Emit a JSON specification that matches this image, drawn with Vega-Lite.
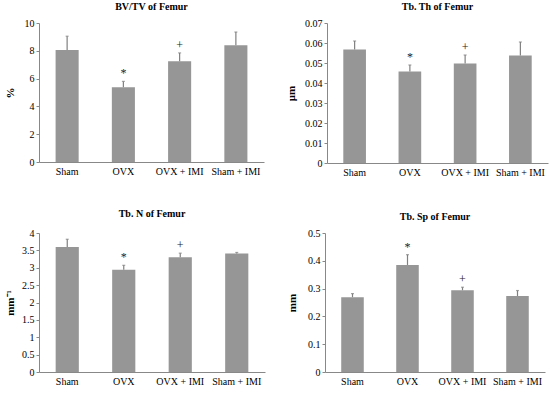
{
  "$schema": "https://vega.github.io/schema/vega-lite/v6.json",
  "padding": {"left": 4, "top": 2, "right": 2, "bottom": 2},
  "background": "white",
  "spacing": 32,
  "datasets": {
    "bvtv": [
      {"group": "Sham", "value": 8.05, "err": 9.05, "sig": ""},
      {"group": "OVX", "value": 5.38, "err": 5.8, "sig": "*"},
      {"group": "OVX + IMI", "value": 7.25, "err": 7.85, "sig": "+"},
      {"group": "Sham + IMI", "value": 8.4, "err": 9.35, "sig": ""}
    ],
    "tbth": [
      {"group": "Sham", "value": 0.0567, "err": 0.061, "sig": ""},
      {"group": "OVX", "value": 0.0457, "err": 0.049, "sig": "*"},
      {"group": "OVX + IMI", "value": 0.0497, "err": 0.054, "sig": "+"},
      {"group": "Sham + IMI", "value": 0.0537, "err": 0.0605, "sig": ""}
    ],
    "tbn": [
      {"group": "Sham", "value": 3.6, "err": 3.82, "sig": ""},
      {"group": "OVX", "value": 2.94, "err": 3.07, "sig": "*"},
      {"group": "OVX + IMI", "value": 3.3, "err": 3.42, "sig": "+"},
      {"group": "Sham + IMI", "value": 3.41, "err": 3.44, "sig": ""}
    ],
    "tbsp": [
      {"group": "Sham", "value": 0.269, "err": 0.282, "sig": ""},
      {"group": "OVX", "value": 0.385, "err": 0.422, "sig": "*"},
      {"group": "OVX + IMI", "value": 0.294, "err": 0.305, "sig": "+"},
      {"group": "Sham + IMI", "value": 0.273, "err": 0.293, "sig": ""}
    ]
  },
  "config": {
    "view": {"stroke": null},
    "font": "Liberation Serif",
    "concat": {"spacing": 21},
    "title": {"font": "Liberation Serif", "fontSize": 10, "fontWeight": "bold", "color": "#000", "anchor": "middle", "offset": 6},
    "axis": {
      "labelFont": "Liberation Serif", "labelFontSize": 10, "labelColor": "#000",
      "titleFont": "Liberation Serif", "titleFontSize": 11, "titleFontWeight": "bold", "titleColor": "#000",
      "domainColor": "#888", "tickColor": "#888", "grid": false, "labelOverlap": false
    },
    "axisX": {"ticks": false, "labelAngle": 0, "labelPadding": 4, "title": null},
    "axisY": {"tickSize": 3, "labelPadding": 2},
    "bar": {"color": "#969696"},
    "rule": {"color": "#808080"},
    "tick": {"color": "#808080"},
    "text": {"color": "#222222"}
  },
  "vconcat": [
    {
      "hconcat": [
        {
          "title": "BV/TV of  Femur",
          "width": 225, "height": 139,
          "data": {"name": "bvtv"},
          "encoding": {"x": {"field": "group", "type": "nominal", "sort": null, "scale": {"paddingInner": 0.59, "paddingOuter": 0.295}, "axis": {"title": null}}},
          "layer": [
            {"mark": "bar", "encoding": {"y": {"field": "value", "type": "quantitative", "scale": {"domain": [0, 10]}, "axis": {"values": [0, 2, 4, 6, 8, 10], "title": "%", "titlePadding": 9}}}},
            {"mark": {"type": "rule", "strokeWidth": 1.2}, "encoding": {"y": {"field": "value", "type": "quantitative", "scale": {"domain": [0, 10]}, "axis": {"values": [0, 2, 4, 6, 8, 10], "title": "%", "titlePadding": 9}}, "y2": {"field": "err"}}},
            {"mark": {"type": "tick", "size": 3, "thickness": 1.2}, "encoding": {"y": {"field": "err", "type": "quantitative", "scale": {"domain": [0, 10]}, "axis": {"values": [0, 2, 4, 6, 8, 10], "title": "%", "titlePadding": 9}}}},
            {"mark": {"type": "text", "baseline": "alphabetic", "dy": -4, "fontSize": 12, "color": "#222222"}, "encoding": {"y": {"field": "err", "type": "quantitative", "scale": {"domain": [0, 10]}, "axis": {"values": [0, 2, 4, 6, 8, 10], "title": "%", "titlePadding": 9}}, "text": {"field": "sig"}}}
          ]
        },
        {
          "title": "Tb. Th of  Femur",
          "width": 221, "height": 140,
          "data": {"name": "tbth"},
          "encoding": {"x": {"field": "group", "type": "nominal", "sort": null, "scale": {"paddingInner": 0.59, "paddingOuter": 0.295}, "axis": {"title": null}}},
          "layer": [
            {"mark": "bar", "encoding": {"y": {"field": "value", "type": "quantitative", "scale": {"domain": [0, 0.07]}, "axis": {"values": [0, 0.01, 0.02, 0.03, 0.04, 0.05, 0.06, 0.07], "format": ".2~f", "title": "μm", "titlePadding": 8}}}},
            {"mark": {"type": "rule", "strokeWidth": 1.2}, "encoding": {"y": {"field": "value", "type": "quantitative", "scale": {"domain": [0, 0.07]}, "axis": {"values": [0, 0.01, 0.02, 0.03, 0.04, 0.05, 0.06, 0.07], "format": ".2~f", "title": "μm", "titlePadding": 8}}, "y2": {"field": "err"}}},
            {"mark": {"type": "tick", "size": 3, "thickness": 1.2}, "encoding": {"y": {"field": "err", "type": "quantitative", "scale": {"domain": [0, 0.07]}, "axis": {"values": [0, 0.01, 0.02, 0.03, 0.04, 0.05, 0.06, 0.07], "format": ".2~f", "title": "μm", "titlePadding": 8}}}},
            {"mark": {"type": "text", "baseline": "alphabetic", "dy": -4, "fontSize": 12, "color": "#222222"}, "encoding": {"y": {"field": "err", "type": "quantitative", "scale": {"domain": [0, 0.07]}, "axis": {"values": [0, 0.01, 0.02, 0.03, 0.04, 0.05, 0.06, 0.07], "format": ".2~f", "title": "μm", "titlePadding": 8}}, "text": {"field": "sig"}}}
          ]
        }
      ]
    },
    {
      "hconcat": [
        {
          "title": "Tb. N of  Femur",
          "width": 226, "height": 139,
          "data": {"name": "tbn"},
          "encoding": {"x": {"field": "group", "type": "nominal", "sort": null, "scale": {"paddingInner": 0.59, "paddingOuter": 0.295}, "axis": {"title": null}}},
          "layer": [
            {"mark": "bar", "encoding": {"y": {"field": "value", "type": "quantitative", "scale": {"domain": [0, 4]}, "axis": {"values": [0, 0.5, 1, 1.5, 2, 2.5, 3, 3.5, 4], "format": "~g", "title": "mm⁻¹", "titlePadding": 6}}}},
            {"mark": {"type": "rule", "strokeWidth": 1.2}, "encoding": {"y": {"field": "value", "type": "quantitative", "scale": {"domain": [0, 4]}, "axis": {"values": [0, 0.5, 1, 1.5, 2, 2.5, 3, 3.5, 4], "format": "~g", "title": "mm⁻¹", "titlePadding": 6}}, "y2": {"field": "err"}}},
            {"mark": {"type": "tick", "size": 3, "thickness": 1.2}, "encoding": {"y": {"field": "err", "type": "quantitative", "scale": {"domain": [0, 4]}, "axis": {"values": [0, 0.5, 1, 1.5, 2, 2.5, 3, 3.5, 4], "format": "~g", "title": "mm⁻¹", "titlePadding": 6}}}},
            {"mark": {"type": "text", "baseline": "alphabetic", "dy": -4, "fontSize": 12, "color": "#222222"}, "encoding": {"y": {"field": "err", "type": "quantitative", "scale": {"domain": [0, 4]}, "axis": {"values": [0, 0.5, 1, 1.5, 2, 2.5, 3, 3.5, 4], "format": "~g", "title": "mm⁻¹", "titlePadding": 6}}, "text": {"field": "sig"}}}
          ]
        },
        {
          "title": "Tb. Sp of  Femur",
          "width": 220, "height": 139,
          "data": {"name": "tbsp"},
          "encoding": {"x": {"field": "group", "type": "nominal", "sort": null, "scale": {"paddingInner": 0.59, "paddingOuter": 0.295}, "axis": {"title": null}}},
          "layer": [
            {"mark": "bar", "encoding": {"y": {"field": "value", "type": "quantitative", "scale": {"domain": [0, 0.5]}, "axis": {"values": [0, 0.1, 0.2, 0.3, 0.4, 0.5], "format": "~g", "title": "mm", "titlePadding": 10}}}},
            {"mark": {"type": "rule", "strokeWidth": 1.2}, "encoding": {"y": {"field": "value", "type": "quantitative", "scale": {"domain": [0, 0.5]}, "axis": {"values": [0, 0.1, 0.2, 0.3, 0.4, 0.5], "format": "~g", "title": "mm", "titlePadding": 10}}, "y2": {"field": "err"}}},
            {"mark": {"type": "tick", "size": 3, "thickness": 1.2}, "encoding": {"y": {"field": "err", "type": "quantitative", "scale": {"domain": [0, 0.5]}, "axis": {"values": [0, 0.1, 0.2, 0.3, 0.4, 0.5], "format": "~g", "title": "mm", "titlePadding": 10}}}},
            {"mark": {"type": "text", "baseline": "alphabetic", "dy": -4, "fontSize": 12, "color": "#222222"}, "encoding": {"y": {"field": "err", "type": "quantitative", "scale": {"domain": [0, 0.5]}, "axis": {"values": [0, 0.1, 0.2, 0.3, 0.4, 0.5], "format": "~g", "title": "mm", "titlePadding": 10}}, "text": {"field": "sig"}}}
          ]
        }
      ]
    }
  ]
}
